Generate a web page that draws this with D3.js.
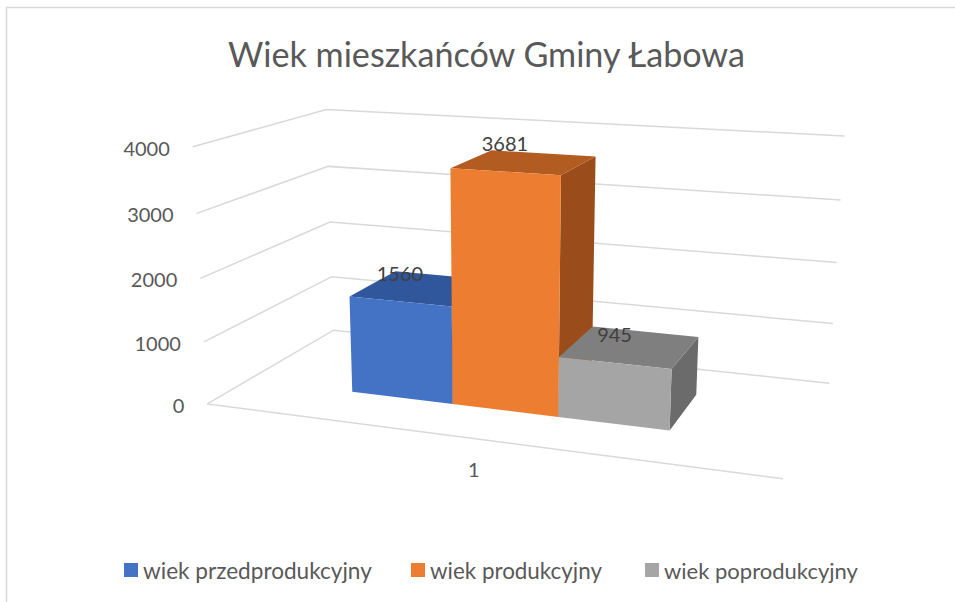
<!DOCTYPE html>
<html>
<head>
<meta charset="utf-8">
<script src="https://cdn.jsdelivr.net/npm/d3@7/dist/d3.min.js"></script>
<style>
  html, body { margin: 0; padding: 0; background: #fff; }
  svg { display: block; }
  text { font-family: Lato, "Open Sans", sans-serif; }
</style>
</head>
<body>
<svg id="chart" width="955" height="602"></svg>
<script>
// ---------------- data ----------------
const title = "Wiek mieszkańców Gminy Łabowa";
const categories = ["1"];
const seriesNames = ["wiek przedprodukcyjny", "wiek produkcyjny", "wiek poprodukcyjny"];
const seriesValues = [1560, 3681, 945];
const tickValues = [0, 1000, 2000, 3000, 4000];
const tickLabels = ["0", "1000", "2000", "3000", "4000"];
const seriesColors = ["#4472C4", "#ED7D31", "#A5A5A5"];
const seriesTopColors = ["#30569C", "#B25C22", "#7F7F7F"];
const seriesSideColors = ["#2A4A86", "#9A4D1A", "#6B6B6B"];

// ---------------- layout ----------------
const W = 955, H = 602;
const svg = d3.select("#chart");

// 3D box: x in [0,1] (left wall -> right), y in [0,1] (value), z in [0,1] (front -> back wall)
const yScale = d3.scaleLinear().domain([0, 4000]).range([0, 1]);
const xCat = d3.scaleBand().domain(categories).range([0.208, 0.788]).padding(0);
const xSeries = d3.scaleBand().domain(seriesNames).range([0, xCat.bandwidth()]).padding(0);
const zRange = [0.30, 0.70];

// camera calibration: frame corners of the 3D box as they appear on screen
const calib = [
  [0, 0, 0, 208, 404], [0, 0.25, 0, 204, 342], [0, 0.5, 0, 200, 278], [0, 0.75, 0, 196, 213], [0, 1, 0, 193, 147],
  [0, 0, 1, 333, 330], [0, 0.25, 1, 332, 277], [0, 0.5, 1, 330, 222], [0, 0.75, 1, 328, 167], [0, 1, 1, 327, 109],
  [1, 0, 1, 829, 383], [1, 0.25, 1, 833, 323], [1, 0.5, 1, 837, 263], [1, 0.75, 1, 841, 200], [1, 1, 1, 844, 136],
  [1, 0, 0, 783, 479]
];

function solve(A, b) {
  const n = b.length;
  const M = A.map((r, i) => r.concat([b[i]]));
  for (let c = 0; c < n; c++) {
    let piv = c;
    for (let r = c + 1; r < n; r++) if (Math.abs(M[r][c]) > Math.abs(M[piv][c])) piv = r;
    [M[c], M[piv]] = [M[piv], M[c]];
    for (let r = 0; r < n; r++) {
      if (r === c) continue;
      const f = M[r][c] / M[c][c];
      for (let k = c; k <= n; k++) M[r][k] -= f * M[c][k];
    }
  }
  return M.map((r, i) => r[n] / r[i]);
}

function fitCamera(pts) {
  const rows = [], rhs = [];
  pts.forEach(([X, Y, Z, u, v]) => {
    const un = (u - 500) / 300, vn = (v - 300) / 300;
    rows.push([X, Y, Z, 1, 0, 0, 0, 0, -un * X, -un * Y, -un * Z]); rhs.push(un);
    rows.push([0, 0, 0, 0, X, Y, Z, 1, -vn * X, -vn * Y, -vn * Z]); rhs.push(vn);
  });
  const n = 11;
  const AtA = Array.from({ length: n }, () => new Array(n).fill(0));
  const Atb = new Array(n).fill(0);
  rows.forEach((r, i) => {
    for (let a = 0; a < n; a++) {
      Atb[a] += r[a] * rhs[i];
      for (let c = 0; c < n; c++) AtA[a][c] += r[a] * r[c];
    }
  });
  return solve(AtA, Atb);
}
const P = fitCamera(calib);
function proj(X, Y, Z) {
  const w = P[8] * X + P[9] * Y + P[10] * Z + 1;
  const un = (P[0] * X + P[1] * Y + P[2] * Z + P[3]) / w;
  const vn = (P[4] * X + P[5] * Y + P[6] * Z + P[7]) / w;
  return [un * 300 + 500, vn * 300 + 300];
}
const line = d3.line();

// ---------------- border ----------------
svg.append("path").attr("d", "M6.5,602 L6.5,7.5 L955,7.5")
  .attr("fill", "none").attr("stroke", "#D9D9D9").attr("stroke-width", 1.5);

// ---------------- title ----------------
function fitWidth(sel, target) {
  const fs = parseFloat(sel.attr("font-size"));
  const w = sel.node().getComputedTextLength();
  sel.attr("font-size", (fs * target / w).toFixed(2));
}
const titleText = svg.append("text").attr("x", 486.5).attr("y", 67).attr("text-anchor", "middle")
  .attr("font-size", 30).attr("fill", "#595959").text(title);
fitWidth(titleText, 517);

// ---------------- gridlines ----------------
const grid = svg.append("g").attr("fill", "none").attr("stroke", "#D9D9D9").attr("stroke-width", 1.5);
tickValues.forEach(t => {
  const y = yScale(t);
  grid.append("path").attr("d", line([proj(0, y, 0), proj(0, y, 1), proj(1, y, 1)]));
});
grid.append("path").attr("d", line([proj(0, 0, 0), proj(1, 0, 0)]));

// tick labels
tickValues.forEach((t, i) => {
  const p = proj(0, yScale(t), 0);
  svg.append("text").attr("x", p[0] - 23).attr("y", p[1] + 1).attr("text-anchor", "end")
    .attr("dominant-baseline", "central").attr("font-size", 20).attr("fill", "#595959").text(tickLabels[i]);
});

// category label
categories.forEach(c => {
  const xc = xCat(c) + xCat.bandwidth() / 2;
  const p = proj(xc, 0, 0);
  svg.append("text").attr("x", p[0]).attr("y", p[1] + 30).attr("text-anchor", "middle")
    .attr("dominant-baseline", "central").attr("font-size", 20).attr("fill", "#595959").text(c);
});

// ---------------- bars ----------------
const bars = svg.append("g");
categories.forEach(c => {
  seriesNames.forEach((s, i) => {
    const x0 = xCat(c) + xSeries(s), x1 = x0 + xSeries.bandwidth();
    const h = yScale(seriesValues[i]);
    const [z0, z1] = zRange;
    const g = bars.append("g");
    g.append("path").attr("d", line([proj(x1, 0, z0), proj(x1, 0, z1), proj(x1, h, z1), proj(x1, h, z0)]) + "Z")
      .attr("fill", seriesSideColors[i]);
    g.append("path").attr("d", line([proj(x0, h, z0), proj(x1, h, z0), proj(x1, h, z1), proj(x0, h, z1)]) + "Z")
      .attr("fill", seriesTopColors[i]);
    g.append("path").attr("d", line([proj(x0, 0, z0), proj(x1, 0, z0), proj(x1, h, z0), proj(x0, h, z0)]) + "Z")
      .attr("fill", seriesColors[i]);
  });
});
// data labels
categories.forEach(c => {
  seriesNames.forEach((s, i) => {
    const xc = xCat(c) + xSeries(s) + xSeries.bandwidth() / 2;
    const p = proj(xc, yScale(seriesValues[i]), zRange[0]);
    svg.append("text").attr("x", p[0]).attr("y", p[1] - 29).attr("text-anchor", "middle")
      .attr("dominant-baseline", "central").attr("font-size", 20).attr("fill", "#404040")
      .text(seriesValues[i]);
  });
});

// ---------------- legend ----------------
const legendX = [124, 411, 645];
const legendW = [229, 172, 194];
const legend = svg.append("g");
seriesNames.forEach((s, i) => {
  legend.append("rect").attr("x", legendX[i]).attr("y", 563).attr("width", 14).attr("height", 14)
    .attr("fill", seriesColors[i]);
  const t = legend.append("text").attr("x", legendX[i] + 19).attr("y", 570)
    .attr("dominant-baseline", "central").attr("font-size", 20).attr("fill", "#595959").text(s);
  fitWidth(t, legendW[i]);
});
</script>
</body>
</html>
